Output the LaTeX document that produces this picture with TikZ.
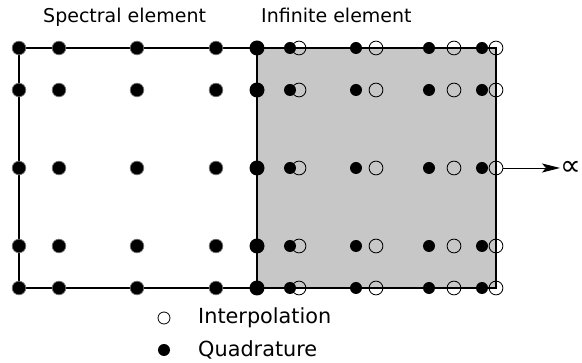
\documentclass[tikz,border=0pt]{standalone}
\usepackage{fontspec}
\setmainfont{DejaVu Sans}
\usetikzlibrary{arrows.meta}
\usetikzlibrary{calc}

\tikzset{
  gll/.style={fill=black, draw=black!55, line width=0.7pt},
  quadpt/.style={fill=black},
  interp/.style={draw=black, line width=0.8pt},
  title/.style={inner sep=0pt, anchor=base west, font=\fontsize{19}{22}\selectfont},
  legend/.style={inner sep=0pt, anchor=base west, font=\fontsize{20.8}{24}\selectfont}
}

\begin{document}
\begin{tikzpicture}[x=1pt,y=-1pt]
    \useasboundingbox (0,0) rectangle (582,363);
    \coordinate (A) at (19,48);
    \coordinate (B) at (257,48);
    \coordinate (C) at (496,48);
    \coordinate (D) at (19,288);
    \coordinate (E) at (257,288);
    \coordinate (F) at (496,288);
    \fill[black!22] (B) rectangle (F);
    \draw[line width=1.3pt] (A) rectangle (F);
    \draw[line width=1.3pt] (B) -- (E);
    % nodes of both elements
    \foreach \y in {48,90,168,246,288} {
      \foreach \x in {19,59,137,216}
        \filldraw[gll] (\x,\y) circle (6.8);
      \fill[quadpt] (257,\y) circle (7.5);
      \foreach \x in {290,356,429,482}
        \fill[quadpt] (\x,\y) circle (6);
      \foreach \x in {299,376,454,496}
        \draw[interp] (\x,\y) circle (6.9);
    }
    \node[title] (spec) at (43,23) {Spectral element};
    \node[title] (inf) at (261,23) {Infinite element};
    \coordinate (ring) at (503,168);
    \node[inner sep=0pt, anchor=west, font=\fontsize{29}{32}\selectfont] (infty) at (560,168) {∝};
    \draw[line width=0.9pt, -{Stealth[length=18pt,width=9pt,inset=4pt]}] (ring) -- (infty);
    % legend
    \draw[interp] (164,318) circle (6);
    \fill[quadpt] (164,350) circle (6);
    \node[legend] (interpol) at (198,324) {Interpolation};
    \node[legend] (quadr) at (198,357) {Quadrature};
\end{tikzpicture}
\end{document}
